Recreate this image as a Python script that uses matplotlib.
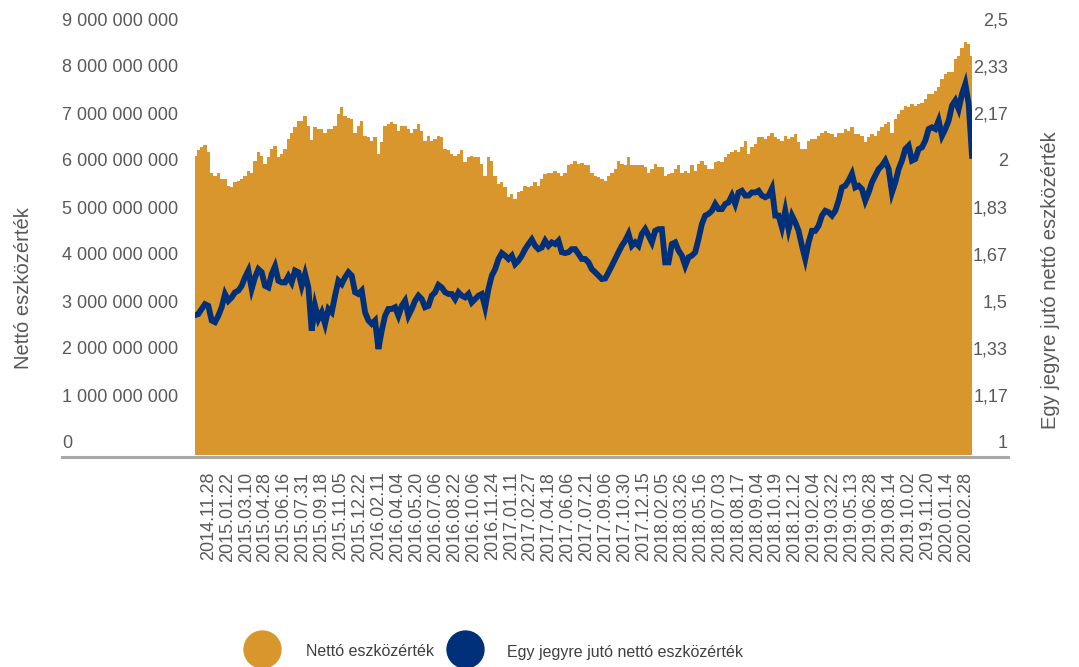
import numpy as np
import matplotlib
matplotlib.use("Agg")
import matplotlib.pyplot as plt
from matplotlib.lines import Line2D
from matplotlib.transforms import blended_transform_factory, ScaledTranslation

plt.rcParams['font.family'] = ['Liberation Sans', 'DejaVu Sans']

# ---------------- data ----------------
date_labels = [
    "2014.11.28", "2015.01.22", "2015.03.10", "2015.04.28", "2015.06.16", "2015.07.31",
    "2015.09.18", "2015.11.05", "2015.12.22", "2016.02.11", "2016.04.04", "2016.05.20",
    "2016.07.06", "2016.08.22", "2016.10.06", "2016.11.24", "2017.01.11", "2017.02.27",
    "2017.04.18", "2017.06.06", "2017.07.21", "2017.09.06", "2017.10.30", "2017.12.15",
    "2018.02.05", "2018.03.26", "2018.05.16", "2018.07.03", "2018.08.17", "2018.09.04",
    "2018.10.19", "2018.12.12", "2019.02.04", "2019.03.22", "2019.05.13", "2019.06.28",
    "2019.08.14", "2019.10.02", "2019.11.20", "2020.01.14", "2020.02.28",
]

# Net asset value, billion HUF (segments of the period)
nav_seg1 = [6.37, 6.48, 6.55, 6.60, 6.44, 6.01, 5.94, 6.01, 5.87, 5.87, 5.73, 5.70, 5.80, 5.84,
            5.87, 5.94, 6.05, 6.01, 6.26, 6.44, 6.37, 6.19, 6.33, 6.51, 6.58, 6.33, 6.40, 6.51,
            6.72, 6.86, 6.97, 7.11, 7.11, 7.22, 7.01, 6.70, 6.97, 6.94, 6.94, 6.86, 6.94, 6.94,
            7.01, 7.26, 7.40, 7.22, 7.18, 7.15, 6.86, 7.01, 7.11, 6.79, 6.76, 6.69, 6.76, 6.40,
            6.65, 7.01]
nav_seg2 = [7.04, 7.09, 7.04, 6.90, 7.01, 7.01, 6.94, 6.86, 6.94, 7.04, 6.90, 6.69, 6.79, 6.69,
            6.72, 6.79, 6.76, 6.51, 6.48, 6.40, 6.37, 6.40, 6.48, 6.23, 6.33, 6.37, 6.33, 6.33,
            6.19, 5.94, 6.33, 6.26, 5.94, 5.77, 5.80, 5.70, 5.48, 5.55, 5.45, 5.60, 5.62, 5.73,
            5.70, 5.73, 5.80, 5.73, 5.87, 5.98, 6.01, 6.01, 6.05, 6.01, 5.94, 6.01, 6.16, 6.19,
            6.26, 6.19]
nav_seg3 = [6.21, 6.17, 6.16, 6.01, 5.94, 5.91, 5.87, 5.84, 5.94, 6.01, 6.08, 6.26, 6.19, 6.16,
            6.33, 6.16, 6.16, 6.16, 6.16, 6.12, 6.01, 6.08, 6.19, 6.12, 6.12, 5.94, 5.98, 6.01,
            6.08, 6.16, 6.01, 6.05, 6.01, 6.16, 6.05, 6.19, 6.26, 6.16, 6.08, 6.08, 6.23, 6.26,
            6.23, 6.33, 6.40, 6.44, 6.48, 6.44, 6.55, 6.69, 6.40, 6.55, 6.62, 6.76, 6.76, 6.72,
            6.79, 6.86, 6.76]
nav_seg4 = [6.72, 6.69, 6.79, 6.72, 6.76, 6.83, 6.65, 6.51, 6.51, 6.69, 6.72, 6.72, 6.79, 6.86,
            6.90, 6.86, 6.83, 6.76, 6.86, 6.86, 6.94, 6.90, 6.97, 6.83, 6.83, 6.79, 6.65, 6.76,
            6.83, 6.79, 6.90, 6.97, 7.04, 7.08, 6.86, 7.15, 7.26, 7.33, 7.43, 7.40, 7.47, 7.43,
            7.47, 7.50, 7.57, 7.68, 7.68, 7.75, 7.82, 8.00, 8.11, 8.14, 8.14, 8.43, 8.50, 8.67,
            8.78, 8.74, 8.50]

# Net asset value per unit (right axis)
unit_seg1 = [1.496, 1.500, 1.518, 1.535, 1.529, 1.477, 1.471, 1.494, 1.524, 1.571, 1.547, 1.559,
             1.577, 1.583, 1.600, 1.630, 1.654, 1.589, 1.630, 1.659, 1.648, 1.600, 1.594, 1.642,
             1.669, 1.618, 1.612, 1.612, 1.634, 1.612, 1.654, 1.648, 1.600, 1.642, 1.594, 1.441,
             1.529, 1.482, 1.506, 1.465, 1.518, 1.506, 1.565, 1.618, 1.606, 1.630, 1.648, 1.636,
             1.577, 1.571, 1.583, 1.506, 1.477, 1.465, 1.477, 1.376, 1.441, 1.494]
unit_seg2 = [1.518, 1.518, 1.524, 1.494, 1.529, 1.547, 1.494, 1.518, 1.547, 1.565, 1.553, 1.524,
             1.529, 1.565, 1.577, 1.603, 1.594, 1.577, 1.571, 1.571, 1.553, 1.577, 1.565, 1.559,
             1.571, 1.541, 1.553, 1.565, 1.571, 1.524, 1.589, 1.636, 1.659, 1.695, 1.716, 1.707,
             1.695, 1.707, 1.677, 1.689, 1.707, 1.730, 1.748, 1.764, 1.742, 1.730, 1.736, 1.760,
             1.742, 1.754, 1.748, 1.760, 1.719, 1.716, 1.719, 1.730, 1.730, 1.713]
unit_seg3 = [1.695, 1.695, 1.683, 1.659, 1.648, 1.636, 1.624, 1.626, 1.648, 1.671, 1.695, 1.719,
             1.742, 1.760, 1.784, 1.742, 1.754, 1.742, 1.784, 1.801, 1.778, 1.754, 1.795, 1.801,
             1.801, 1.683, 1.683, 1.748, 1.754, 1.725, 1.707, 1.671, 1.701, 1.707, 1.719, 1.766,
             1.819, 1.849, 1.855, 1.866, 1.890, 1.872, 1.872, 1.890, 1.896, 1.920, 1.890, 1.931,
             1.937, 1.920, 1.920, 1.931, 1.931, 1.937, 1.920, 1.914, 1.920, 1.945, 1.849]
unit_seg4 = [1.849, 1.807, 1.866, 1.801, 1.849, 1.825, 1.795, 1.742, 1.695, 1.754, 1.795, 1.795,
             1.813, 1.849, 1.866, 1.861, 1.849, 1.866, 1.902, 1.949, 1.955, 1.973, 1.997, 1.949,
             1.955, 1.943, 1.902, 1.931, 1.967, 1.991, 2.014, 2.026, 2.044, 2.014, 1.931, 1.967,
             2.014, 2.044, 2.085, 2.097, 2.044, 2.050, 2.085, 2.091, 2.115, 2.156, 2.162, 2.156,
             2.186, 2.132, 2.156, 2.186, 2.239, 2.257, 2.227, 2.280, 2.316, 2.245, 2.061]

nav_bn = np.array(nav_seg1 + nav_seg2 + nav_seg3 + nav_seg4)
unit_nav = np.array(unit_seg1 + unit_seg2 + unit_seg3 + unit_seg4)

left_ticks = [0, 1e9, 2e9, 3e9, 4e9, 5e9, 6e9, 7e9, 8e9, 9e9]
right_ticks = list(np.linspace(1, 2.5, 10))

# ---------------- styling ----------------
ORANGE = "#D9962C"
BLUE = "#00307A"
TXT = "#595959"
W, H = 1079, 667

fig = plt.figure(figsize=(W / 100, H / 100), dpi=100)
ax = fig.add_axes([195 / W, 1 - 455 / H, 777 / W, 423 / H])
ax2 = ax.twinx()

x = np.arange(len(nav_bn))
ax.fill_between(x, 0, nav_bn * 1e9, color=ORANGE, lw=0, step="mid")
ax2.plot(x, unit_nav, color=BLUE, lw=4.2, solid_joinstyle="miter")

ax.set_xlim(0, len(x) - 1)
ax.set_ylim(0, 9e9)
ax2.set_ylim(1, 2.5)

for a in (ax, ax2):
    for s in a.spines.values():
        s.set_visible(False)
    a.set_yticks([])
ax.tick_params(axis="x", length=0, pad=12)

# category labels spread evenly along the x axis as in the reference
ax.set_xticks(np.linspace(4, 231, len(date_labels)))
ax.set_xticklabels(date_labels, rotation=90, fontsize=13, color=TXT)

# y tick labels drawn as text, slightly above their tick positions
off = ScaledTranslation(0, 0.11, fig.dpi_scale_trans)
tl = blended_transform_factory(fig.transFigure, ax.transData) + off
for v in left_ticks:
    s = f"{int(v):,}".replace(",", " ")
    fig.text(62 / W, v, s, transform=tl, ha="left", va="center", fontsize=13, color=TXT)
tr = blended_transform_factory(fig.transFigure, ax2.transData) + off
for v in right_ticks:
    s = f"{v:.2f}".rstrip("0").rstrip(".").replace(".", ",")
    fig.text(1008 / W, v, s, transform=tr, ha="right", va="center", fontsize=13, color=TXT)

# axis titles
fig.text(24 / W, 1 - 288 / H, "Nettó eszközérték", rotation=90, ha="center", va="center",
         fontsize=14.5, color=TXT)
fig.text(1051 / W, 1 - 280 / H, "Egy jegyre jutó nettó eszközérték", rotation=90,
         ha="center", va="center", fontsize=14.5, color=TXT)

# baseline
fig.add_artist(Line2D([62 / W, 1008 / W], [1 - 456.5 / H] * 2, transform=fig.transFigure,
                      color="#a8a8a8", lw=2.2))

# legend
fig.add_artist(Line2D([262 / W], [1 - 648.5 / H], marker="o", markersize=26.6, color=ORANGE,
                      transform=fig.transFigure, lw=0))
fig.text(306 / W, 1 - 652 / H, "Nettó eszközérték", ha="left", va="center", fontsize=11.5,
         color="#404040")
fig.add_artist(Line2D([465 / W], [1 - 648.5 / H], marker="o", markersize=26.6, color=BLUE,
                      transform=fig.transFigure, lw=0))
fig.text(507 / W, 1 - 652 / H, "Egy jegyre jutó nettó eszközérték", ha="left", va="center",
         fontsize=11.5, color="#404040")

fig.savefig("out.png", dpi=100)
